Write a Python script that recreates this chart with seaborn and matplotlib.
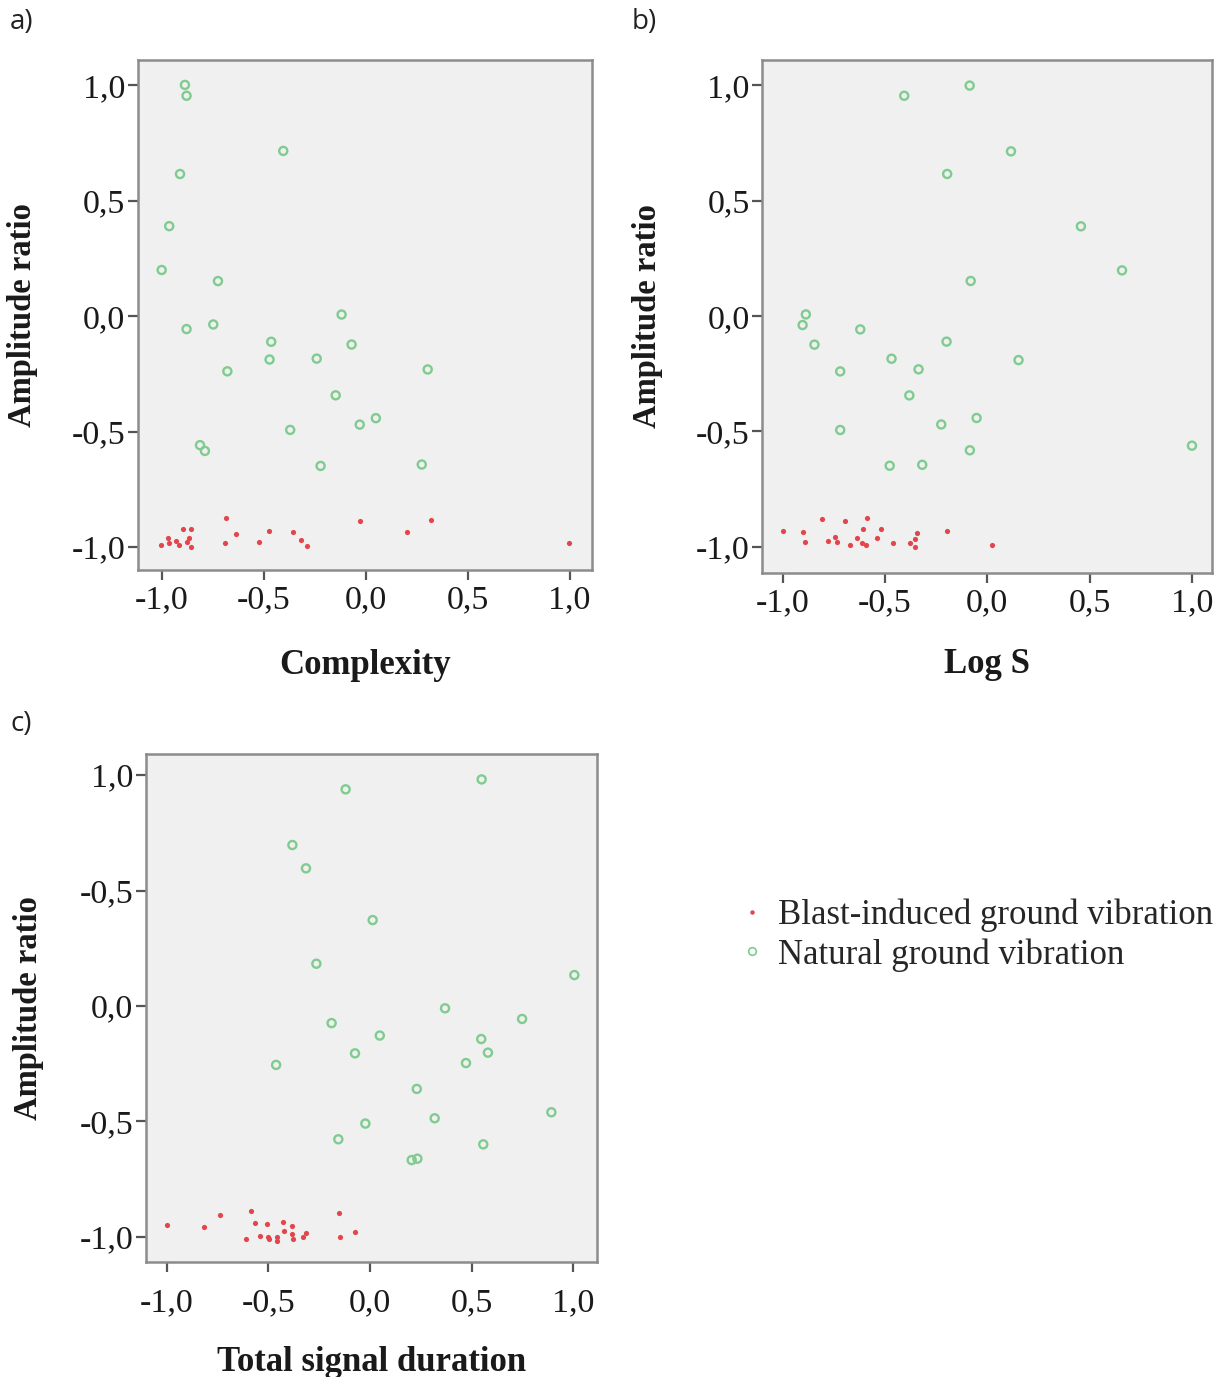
import matplotlib
matplotlib.use("Agg")
import matplotlib.pyplot as plt
from matplotlib.lines import Line2D
import seaborn as sns

# --- Panel a: Complexity vs amplitude ratio ---
a_nat_x = [-0.886, -0.878, -0.404, -0.910, -0.963, -1.000, -0.724, -0.118, -0.878, -0.747,
           -0.463, -0.069, -0.471, -0.240, -0.678, 0.304, -0.147, 0.050, -0.029, -0.370,
           -0.812, -0.788, -0.221, 0.275]
a_nat_y = [1.002, 0.955, 0.716, 0.616, 0.390, 0.200, 0.152, 0.007, -0.056, -0.036,
           -0.111, -0.123, -0.188, -0.184, -0.239, -0.231, -0.343, -0.442, -0.470, -0.493,
           -0.559, -0.584, -0.649, -0.643]
a_blast_x = [-1.002, -0.967, -0.964, -0.931, -0.915, -0.894, -0.858, -0.865, -0.874, -0.855,
             -0.685, -0.637, -0.691, -0.522, -0.476, -0.356, -0.316, -0.288, -0.028, 0.204,
             0.320, 0.998]
a_blast_y = [-0.993, -0.963, -0.983, -0.974, -0.993, -0.922, -0.921, -0.960, -0.977, -1.002,
             -0.873, -0.943, -0.983, -0.977, -0.929, -0.934, -0.968, -0.994, -0.889, -0.937,
             -0.882, -0.984]

# --- Panel b: Log S vs amplitude ratio ---
b_nat_x = [-0.406, -0.086, 0.116, -0.196, 0.458, 0.659, -0.081, -0.887, -0.903, -0.621,
           -0.845, -0.199, -0.468, 0.153, -0.336, -0.719, -0.381, -0.052, -0.225, -0.719,
           1.001, -0.085, -0.477, -0.318]
b_nat_y = [0.955, 0.999, 0.714, 0.616, 0.389, 0.198, 0.152, 0.007, -0.039, -0.058,
           -0.124, -0.111, -0.185, -0.191, -0.231, -0.240, -0.344, -0.442, -0.470, -0.494,
           -0.562, -0.582, -0.649, -0.645]
b_blast_x = [-1.000, -0.903, -0.891, -0.810, -0.780, -0.745, -0.735, -0.694, -0.673, -0.636,
             -0.608, -0.613, -0.595, -0.587, -0.538, -0.521, -0.463, -0.380, -0.355, -0.344,
             -0.352, -0.199, 0.023]
b_blast_y = [-0.934, -0.937, -0.979, -0.882, -0.974, -0.957, -0.979, -0.889, -0.994, -0.963,
             -0.922, -0.984, -0.993, -0.875, -0.963, -0.924, -0.984, -0.984, -0.968, -0.942,
             -1.003, -0.931, -0.994]

# --- Panel c: Total signal duration vs amplitude ratio ---
c_nat_x = [-0.120, 0.549, -0.382, -0.315, 0.013, -0.264, 1.005, 0.369, -0.189, 0.748,
           0.048, 0.547, -0.074, 0.580, 0.472, -0.462, 0.230, 0.892, 0.318, -0.023,
           -0.156, 0.557, 0.205, 0.233]
c_nat_y = [0.938, 0.981, 0.697, 0.596, 0.372, 0.183, 0.134, -0.010, -0.074, -0.056,
           -0.128, -0.143, -0.205, -0.202, -0.247, -0.255, -0.359, -0.460, -0.486, -0.509,
           -0.577, -0.599, -0.667, -0.661]
c_blast_x = [-1.000, -0.818, -0.738, -0.585, -0.566, -0.508, -0.611, -0.541, -0.500, -0.498,
             -0.459, -0.459, -0.426, -0.421, -0.382, -0.382, -0.380, -0.332, -0.313, -0.152,
             -0.146, -0.074]
c_blast_y = [-0.949, -0.958, -0.905, -0.889, -0.938, -0.945, -1.009, -0.996, -0.999, -1.010,
             -1.001, -1.019, -0.935, -0.973, -0.952, -0.988, -1.007, -1.000, -0.984, -0.897,
             -1.000, -0.980]

tick_vals = [-1.0, -0.5, 0.0, 0.5, 1.0]
x_tick_labels = ["-1,0", "-0,5", "0,0", "0,5", "1,0"]
y_tick_labels = ["-1,0", "-0,5", "0,0", "0,5", "1,0"]
y_tick_labels_c = ["-1,0", "-0,5", "0,0", "-0,5", "1,0"]

legend_labels = ["Blast-induced ground vibration", "Natural ground vibration"]
GREEN = "#80cc90"
RED = "#e2454b"
FRAME = "#8c8c8c"
SERIF = ["Liberation Serif", "DejaVu Serif"]

sns.set_theme(style="white")
plt.rcParams["font.family"] = SERIF

fig = plt.figure(figsize=(12.28, 13.77), dpi=100)
W, H = 1228, 1377


def add_axes_px(left, top, right, bottom):
    return fig.add_axes([left / W, 1 - bottom / H, (right - left) / W, (bottom - top) / H])


panels = [
    dict(box=(138, 60, 591.7, 570), xlim=(-1.116, 1.108), ylim=(-1.10, 1.11),
         nat=(a_nat_x, a_nat_y), blast=(a_blast_x, a_blast_y),
         xlabel="Complexity", ylabels=y_tick_labels, tag="a)", tagpos=(10, 22),
         xpad=4, xlabpad=24, ylabpad=24),
    dict(box=(762.3, 60, 1212, 573), xlim=(-1.100, 1.099), ylim=(-1.114, 1.110),
         nat=(b_nat_x, b_nat_y), blast=(b_blast_x, b_blast_y),
         xlabel="Log S", ylabels=y_tick_labels, tag="b)", tagpos=(632, 22),
         xpad=4, xlabpad=21, ylabpad=24),
    dict(box=(146, 754, 596.7, 1261.7), xlim=(-1.102, 1.115), ylim=(-1.107, 1.091),
         nat=(c_nat_x, c_nat_y), blast=(c_blast_x, c_blast_y),
         xlabel="Total signal duration", ylabels=y_tick_labels_c, tag="c)", tagpos=(10, 724),
         xpad=12, xlabpad=20, ylabpad=26),
]

for p in panels:
    ax = add_axes_px(*p["box"])
    ax.set_facecolor("#f0f0f0")
    sns.scatterplot(x=p["blast"][0], y=p["blast"][1], ax=ax, color=RED, s=14,
                    linewidth=0, marker="o", legend=False)
    sns.scatterplot(x=p["nat"][0], y=p["nat"][1], ax=ax, s=34, marker="o",
                    facecolor="none", edgecolor=GREEN, linewidth=1.7, legend=False)
    ax.set_xlim(*p["xlim"])
    ax.set_ylim(*p["ylim"])
    ax.set_xticks(tick_vals)
    ax.set_xticklabels(x_tick_labels)
    ax.set_yticks(tick_vals)
    ax.set_yticklabels(p["ylabels"])
    ax.tick_params(axis="both", which="major", direction="out", length=7, width=1.6,
                   color="#555555", labelsize=24.5, labelcolor="#1a1a1a", pad=2,
                   left=True, bottom=True)
    ax.tick_params(axis="x", pad=p["xpad"])
    for sp in ax.spines.values():
        sp.set_color(FRAME)
        sp.set_linewidth(1.8)
    ax.set_xlabel(p["xlabel"], fontsize=25, fontweight="bold", color="#1a1a1a",
                  labelpad=p["xlabpad"])
    ax.set_ylabel("Amplitude ratio", fontsize=23.5, fontweight="bold", color="#1a1a1a",
                  labelpad=p["ylabpad"])
    fig.text(p["tagpos"][0] / W, 1 - p["tagpos"][1] / H, p["tag"], fontsize=20,
             family=["Open Sans", "DejaVu Sans"], color="#222222", ha="left", va="center")

handles = [
    Line2D([], [], linestyle="none", marker="o", markersize=3.2, markerfacecolor=RED,
           markeredgewidth=0, color=RED),
    Line2D([], [], linestyle="none", marker="o", markersize=5.5, markerfacecolor="none",
           markeredgecolor=GREEN, markeredgewidth=1.2),
]
fig.legend(handles, legend_labels, loc="center left", bbox_to_anchor=(724 / W, 1 - 935 / H),
           frameon=False, handlelength=0.6, handletextpad=0.45,
           labelspacing=0.18, borderpad=0, prop={"family": SERIF, "size": 25})

fig.savefig("out.png", dpi=100, facecolor="white")
